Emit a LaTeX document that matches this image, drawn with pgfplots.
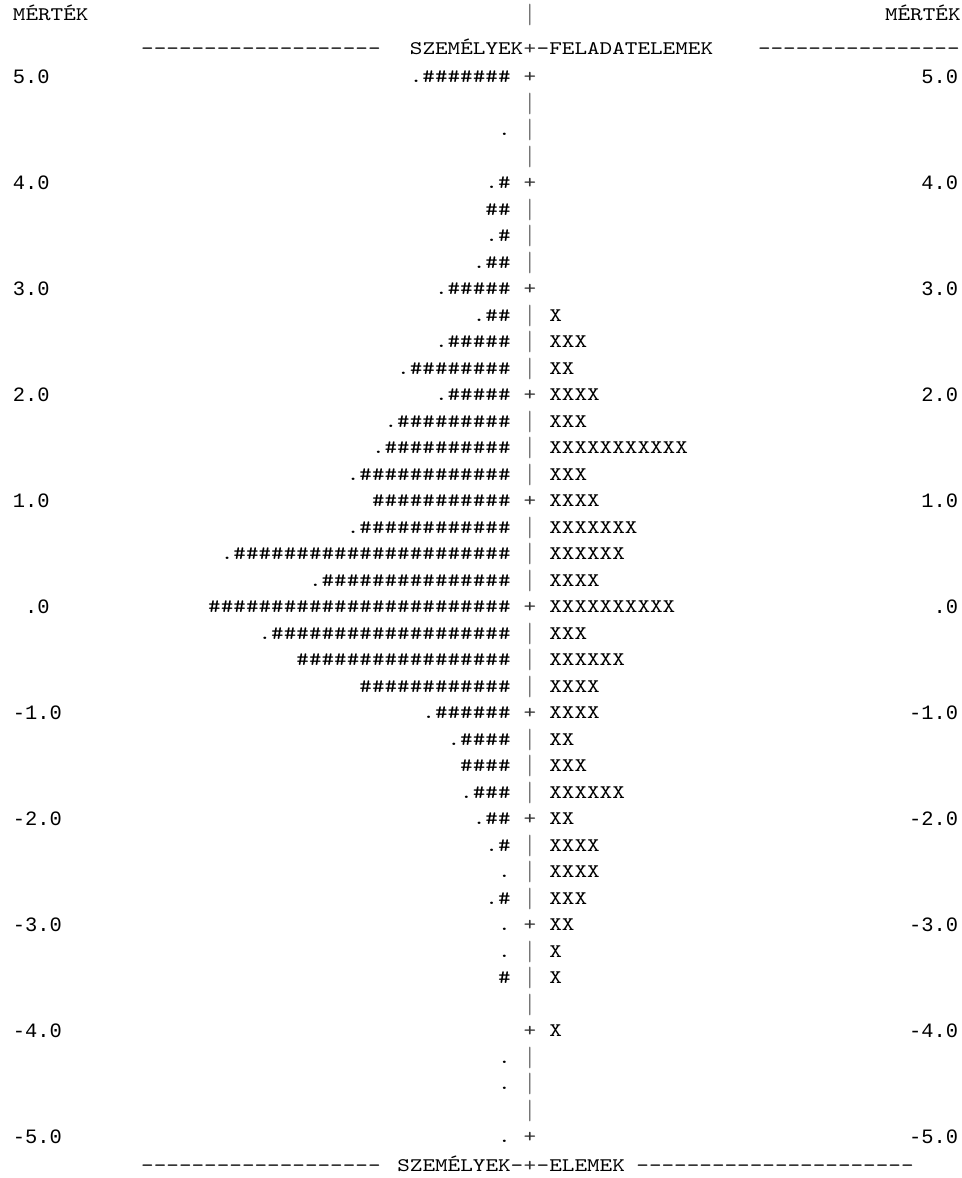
\documentclass[border=0pt]{standalone}
\usepackage{fontspec}
\usepackage{graphicx}
\usepackage{pgfplots}
\usepackage{pgfplotstable}
\pgfplotsset{compat=1.18}
\newfontfamily\labelfont{Liberation Mono}
\newcommand\bodyfont{\fontsize{9.6}{11}\selectfont\ttfamily}
\newcommand\h{\#}

% text anchored at its right end (persons column and header pieces)
\pgfplotstableread{
x y t
511 5.00 .\h\h\h\h\h\h\h
511 4.50 .
511 4.00 .\h
511 3.75 \h\h
511 3.50 .\h
511 3.25 .\h\h
511 3.00 .\h\h\h\h\h
511 2.75 .\h\h
511 2.50 .\h\h\h\h\h
511 2.25 .\h\h\h\h\h\h\h\h
511 2.00 .\h\h\h\h\h
511 1.75 .\h\h\h\h\h\h\h\h\h
511 1.50 .\h\h\h\h\h\h\h\h\h\h
511 1.25 .\h\h\h\h\h\h\h\h\h\h\h\h
511 1.00 \h\h\h\h\h\h\h\h\h\h\h
511 0.75 .\h\h\h\h\h\h\h\h\h\h\h\h
511 0.50 .\h\h\h\h\h\h\h\h\h\h\h\h\h\h\h\h\h\h\h\h\h\h
511 0.25 .\h\h\h\h\h\h\h\h\h\h\h\h\h\h\h
511 0.00 \h\h\h\h\h\h\h\h\h\h\h\h\h\h\h\h\h\h\h\h\h\h\h\h
511 -0.25 .\h\h\h\h\h\h\h\h\h\h\h\h\h\h\h\h\h\h\h
511 -0.50 \h\h\h\h\h\h\h\h\h\h\h\h\h\h\h\h\h
511 -0.75 \h\h\h\h\h\h\h\h\h\h\h\h
511 -1.00 .\h\h\h\h\h\h
511 -1.25 .\h\h\h\h
511 -1.50 \h\h\h\h
511 -1.75 .\h\h\h
511 -2.00 .\h\h
511 -2.25 .\h
511 -2.50 .
511 -2.75 .\h
511 -3.00 .
511 -3.25 .
511 -3.50 \h
511 -4.25 .
511 -4.50 .
511 -5.00 .
961 5.59 MÉRTÉK
381 5.27 -------------------
523.7 5.27 SZEMÉLYEK
960 5.27 ----------------
381 -5.27 -------------------
523.7 -5.27 SZEMÉLYEK-
}\eastdata

% text anchored at its left end (items column and header pieces)
\pgfplotstableread{
x y t
548.9 2.75 X
548.9 2.50 XXX
548.9 2.25 XX
548.9 2.00 XXXX
548.9 1.75 XXX
548.9 1.50 XXXXXXXXXXX
548.9 1.25 XXX
548.9 1.00 XXXX
548.9 0.75 XXXXXXX
548.9 0.50 XXXXXX
548.9 0.25 XXXX
548.9 0.00 XXXXXXXXXX
548.9 -0.25 XXX
548.9 -0.50 XXXXXX
548.9 -0.75 XXXX
548.9 -1.00 XXXX
548.9 -1.25 XX
548.9 -1.50 XXX
548.9 -1.75 XXXXXX
548.9 -2.00 XX
548.9 -2.25 XXXX
548.9 -2.50 XXXX
548.9 -2.75 XXX
548.9 -3.00 XX
548.9 -3.25 X
548.9 -3.50 X
548.9 -4.00 X
12.5 5.59 MÉRTÉK
536.3 5.27 -FELADATELEMEK
536.3 -5.27 -ELEMEK
636 -5.27 ----------------------
}\westdata

% centre column: crossings
\pgfplotstableread{
x y t
530 5.27 +
530 5.00 +
530 4.00 +
530 3.00 +
530 2.00 +
530 1.00 +
530 0.00 +
530 -1.00 +
530 -2.00 +
530 -3.00 +
530 -4.00 +
530 -5.00 +
530 -5.27 +
}\plusdata

% centre column: rules
\pgfplotstableread{
x y t
530 5.59 |
530 4.75 |
530 4.50 |
530 4.25 |
530 3.75 |
530 3.50 |
530 3.25 |
530 2.75 |
530 2.50 |
530 2.25 |
530 1.75 |
530 1.50 |
530 1.25 |
530 0.75 |
530 0.50 |
530 0.25 |
530 -0.25 |
530 -0.50 |
530 -0.75 |
530 -1.25 |
530 -1.50 |
530 -1.75 |
530 -2.25 |
530 -2.50 |
530 -2.75 |
530 -3.25 |
530 -3.50 |
530 -3.75 |
530 -4.25 |
530 -4.50 |
530 -4.75 |
}\pipedata

% scale labels
\pgfplotstableread{
xl xr y tl tr
12.5 958.5 5 5.0 5.0
12.5 958.5 4 4.0 4.0
12.5 958.5 3 3.0 3.0
12.5 958.5 2 2.0 2.0
12.5 958.5 1 1.0 1.0
12.5 958.5 0 \hphantom{0}.0 .0
12.5 958.5 -1 -1.0 -1.0
12.5 958.5 -2 -2.0 -2.0
12.5 958.5 -3 -3.0 -3.0
12.5 958.5 -4 -4.0 -4.0
12.5 958.5 -5 -5.0 -5.0
}\labeldata

\begin{document}
\begin{tikzpicture}
\useasboundingbox (0,0) rectangle (481pt,589pt);
\begin{axis}[
  at={(0,0)}, anchor=south west,
  width=481pt, height=589pt, scale only axis,
  xmin=0, xmax=962, ymin=-5.387, ymax=5.726,
  hide axis, clip=false,
  point meta=explicit symbolic,
]
\addplot[draw=none, mark=none,
  nodes near coords={\scalebox{1.25}[1]{\pgfplotspointmeta}},
  every node near coord/.append style={anchor=east, inner sep=0pt,
    font=\bodyfont, text height=5.9pt, text depth=0pt, black}]
  table[x=x, y=y, meta=t] {\eastdata};
\addplot[draw=none, mark=none,
  nodes near coords={\scalebox{1.25}[1]{\pgfplotspointmeta}},
  every node near coord/.append style={anchor=west, inner sep=0pt,
    font=\bodyfont, text height=5.9pt, text depth=0pt, black}]
  table[x=x, y=y, meta=t] {\westdata};
\addplot[draw=none, mark=none,
  nodes near coords={\scalebox{1.25}[1]{\pgfplotspointmeta}},
  every node near coord/.append style={anchor=center, inner sep=0pt,
    font=\bodyfont, text height=5.9pt, text depth=0pt, black!80}]
  table[x=x, y=y, meta=t] {\plusdata};
\addplot[draw=none, mark=none,
  nodes near coords={\raisebox{-1.4pt}{\scalebox{0.9}[1.45]{\pgfplotspointmeta}}},
  every node near coord/.append style={anchor=center, inner sep=0pt,
    font=\bodyfont, text height=5.9pt, text depth=0pt, black!65}]
  table[x=x, y=y, meta=t] {\pipedata};
\addplot[draw=none, mark=none,
  nodes near coords={\pgfplotspointmeta},
  every node near coord/.append style={anchor=west, inner sep=0pt,
    font=\fontsize{10.2}{12}\labelfont, text height=6.9pt, text depth=0pt, black}]
  table[x=xl, y=y, meta=tl] {\labeldata};
\addplot[draw=none, mark=none,
  nodes near coords={\pgfplotspointmeta},
  every node near coord/.append style={anchor=east, inner sep=0pt,
    font=\fontsize{10.2}{12}\labelfont, text height=6.9pt, text depth=0pt, black}]
  table[x=xr, y=y, meta=tr] {\labeldata};
\end{axis}
\end{tikzpicture}
\end{document}
